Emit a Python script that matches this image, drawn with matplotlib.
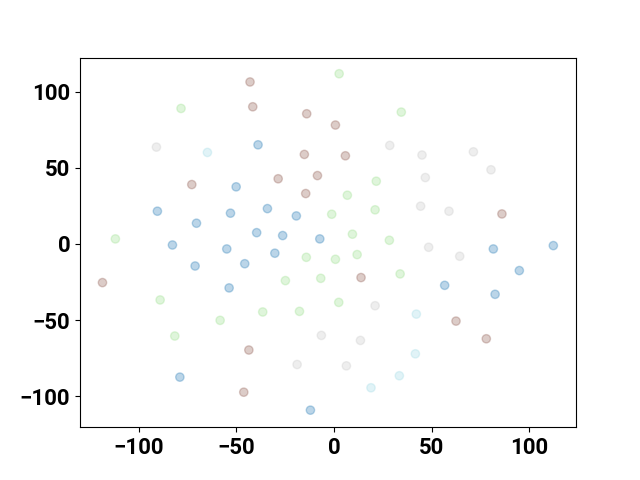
import matplotlib
matplotlib.use("Agg")
import matplotlib.pyplot as plt
import numpy as np

# embedded 2-D points, grouped by class label
x_blue = [-38.9, -50.1, -90.4, -53.0, -34.1, -19.3, -70.4, -39.6, -26.3, -7.3,
          -82.7, -54.9, -71.1, -45.7, -30.3, -53.7, -78.9, -12.1,
          81.5, 112.2, 94.8, 56.6, 82.4]
y_blue = [65.1, 37.5, 21.5, 20.2, 23.2, 18.4, 13.6, 7.4, 5.5, 3.3,
          -0.7, -3.3, -14.5, -13.0, -6.1, -28.9, -87.5, -109.2,
          -3.3, -1.1, -17.5, -27.2, -33.1]

x_green = [-78.3, 2.6, 34.4, 21.6, 6.8, 21.0, -1.2, 9.4, 28.3, -111.9,
           -14.2, -6.8, -24.9, 0.7, 11.8, 33.8, 2.4, -89.0, -36.5, -17.7,
           -58.3, -81.5]
y_green = [89.0, 111.8, 86.6, 41.2, 32.0, 22.4, 19.5, 6.4, 2.4, 3.3,
           -8.8, -22.6, -24.1, -10.1, -7.0, -19.7, -38.4, -36.8, -44.7, -44.3,
           -50.2, -60.5]

x_brown = [-43.0, -41.6, -14.0, -15.2, -8.5, -28.6, -14.5, -72.8, 0.7, 5.8,
           85.9, -118.5, -43.6, -46.2, 13.8, 62.4, 77.9]
y_brown = [106.4, 90.1, 85.5, 58.8, 44.9, 42.8, 33.1, 39.0, 78.1, 57.9,
           19.7, -25.4, -69.7, -97.4, -22.1, -50.7, -62.3]

x_gray = [-90.9, 28.5, 45.0, 71.3, 80.3, 46.7, 44.3, 58.8, 48.4, 64.3,
          21.0, -6.5, 13.5, -18.9, 6.3]
y_gray = [63.6, 64.7, 58.4, 60.5, 48.7, 43.6, 24.8, 21.5, -2.2, -8.1,
          -40.6, -60.1, -63.4, -79.2, -80.1]

x_cyan = [-64.8, 42.1, 41.6, 33.4, 18.9]
y_cyan = [60.1, -46.1, -72.2, -86.6, -94.5]

groups = [(x_blue, y_blue), (x_green, y_green), (x_brown, y_brown),
          (x_gray, y_gray), (x_cyan, y_cyan)]

xs = np.concatenate([g[0] for g in groups])
ys = np.concatenate([g[1] for g in groups])
labels = np.concatenate([[i] * len(g[0]) for i, g in enumerate(groups)])

plt.rcParams['font.family'] = ['Roboto', 'DejaVu Sans']

fig, ax = plt.subplots(figsize=(6.4, 4.8), dpi=100)
ax.scatter(xs, ys, c=labels, cmap='tab20', alpha=0.3)

ax.set_xlim(-130, 123.8)
ax.set_ylim(-120.4, 122.4)
ax.set_xticks([-100, -50, 0, 50, 100])
ax.set_yticks([-100, -50, 0, 50, 100])
for lab in ax.get_xticklabels() + ax.get_yticklabels():
    lab.set_fontsize(16)
    lab.set_fontweight('bold')

plt.savefig("out.png")
